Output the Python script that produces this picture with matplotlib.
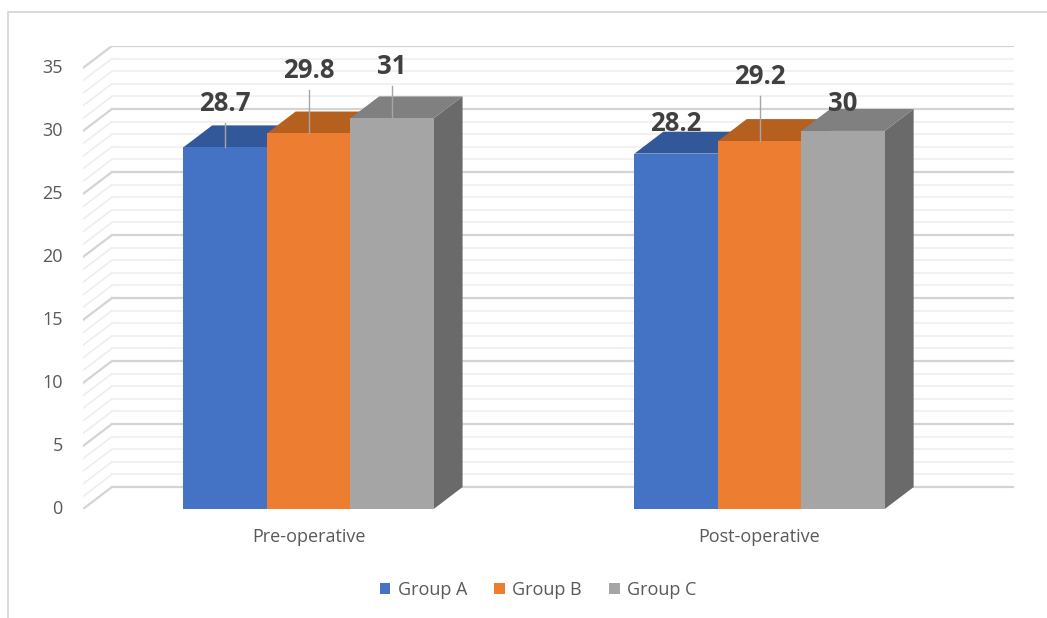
import numpy as np
import matplotlib.pyplot as plt
from matplotlib.lines import Line2D
from matplotlib.patches import Polygon, Rectangle, Patch

# Excel-style 3D clustered column chart
periods = ['Pre-operative', 'Post-operative']
groups = ['Group A', 'Group B', 'Group C']
group_a = [28.7, 28.2]
group_b = [29.8, 29.2]
group_c = [31, 30]
y_ticks = [0, 5, 10, 15, 20, 25, 30, 35]

front_colors = ['#4472C4', '#ED7D31', '#A5A5A5']
top_colors = ['#325899', '#B5601F', '#808080']
side_colors = ['#2B4C85', '#9E521B', '#6A6A6A']

plt.rcParams['font.family'] = ['Open Sans', 'DejaVu Sans']

fig = plt.figure(figsize=(10.47, 6.18), dpi=100)
fig.patch.set_facecolor('white')

# chart border (only top and left edges fall inside the image)
fig.add_artist(Line2D([8 / 1047, 8 / 1047, 1], [0, 1 - 12 / 618, 1 - 12 / 618],
                      transform=fig.transFigure, color='#D9D9D9', lw=1.4))

# depth of the 3D box in data units
dx = 0.064
dy = 1.74
ymax = 35

ax = fig.add_axes([83 / 1047, 1 - 509 / 618, 931 / 1047, 463 / 618])
ax.set_xlim(-0.5, 1.5 + dx)
ax.set_ylim(0, ymax + dy)
ax.axis('off')

# back wall gridlines and left side diagonals
for v in np.arange(0, ymax + 1, 1):
    major = v % 5 == 0
    c = '#D4D4D4' if major else '#EDEDED'
    lw = 1.6 if major else 1.1
    ax.plot([-0.5 + dx, 1.5 + dx], [v + dy, v + dy], color=c, lw=lw, zorder=1)
    ax.plot([-0.5, -0.5 + dx], [v, v + dy], color=c, lw=lw, zorder=1)

for v in y_ticks:
    ax.text(-0.545, v, str(v), ha='right', va='center', fontsize=13,
            color='#595959')

for i, p in enumerate(periods):
    ax.text(i, -2.25, p, ha='center', va='center', fontsize=13, color='#595959')

w = 0.185
series = [group_a, group_b, group_c]
label_off = [[3.5, 2.4], [5.0, 5.1], [4.1, 2.2]]

for i in range(len(periods)):
    for j, vals in enumerate(series):
        v = vals[i]
        x0 = i + (j - 1) * w - w / 2
        x1 = x0 + w
        ax.add_patch(Polygon([(x1, 0), (x1 + dx, dy), (x1 + dx, v + dy), (x1, v)],
                             closed=True, facecolor=side_colors[j],
                             edgecolor='none', zorder=2 + j))
        ax.add_patch(Polygon([(x0, v), (x1, v), (x1 + dx, v + dy), (x0 + dx, v + dy)],
                             closed=True, facecolor=top_colors[j],
                             edgecolor='none', zorder=2 + j))
        ax.add_patch(Rectangle((x0, 0), w, v, facecolor=front_colors[j],
                               edgecolor='none', zorder=2 + j))

# value labels with leader lines
for i in range(len(periods)):
    for j, vals in enumerate(series):
        v = vals[i]
        xc = i + (j - 1) * w
        off = label_off[j][i]
        if off > 3:
            ax.plot([xc, xc], [v, v + off - 1.55], color='#A6A6A6', lw=1,
                    zorder=6)
        ax.text(xc, v + off, f'{v:g}', ha='center', va='center', fontsize=18.5,
                fontweight='bold', color='#404040', zorder=7)

handles = [Patch(facecolor=c, edgecolor='none') for c in front_colors]
leg = fig.legend(handles, groups, loc='center',
                 bbox_to_anchor=(538 / 1047, 1 - 590 / 618),
                 ncol=3, frameon=False, fontsize=13, handlelength=0.6,
                 handleheight=0.6, handletextpad=0.4, columnspacing=1.5)
for t in leg.get_texts():
    t.set_color('#595959')

fig.savefig('out.png', dpi=100)
